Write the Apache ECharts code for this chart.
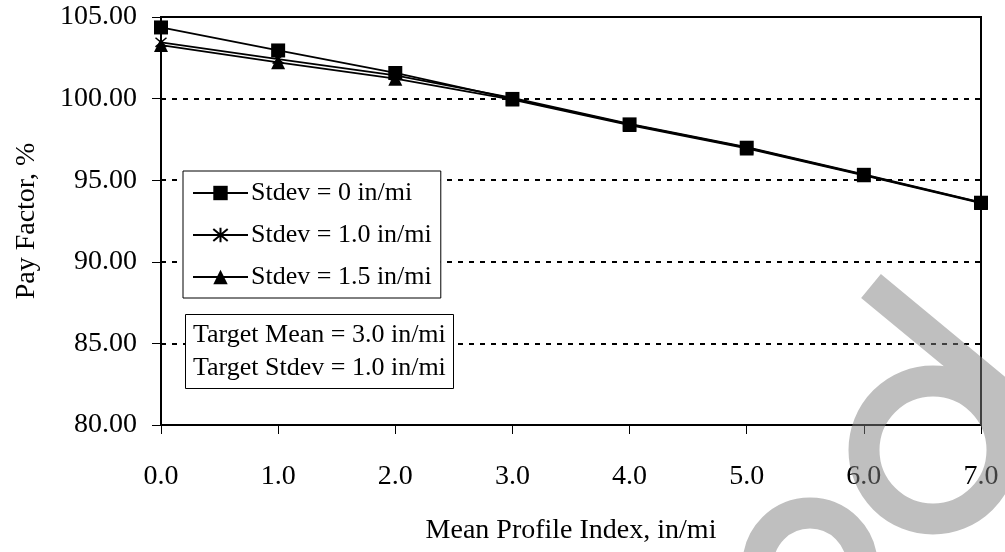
<!DOCTYPE html>
<html>
<head>
<meta charset="utf-8">
<script src="https://cdn.jsdelivr.net/npm/echarts@6/dist/echarts.min.js"></script>
<style>
  html, body { margin: 0; padding: 0; background: #fff; }
  #chart { width: 1005px; height: 552px; }
</style>
</head>
<body>
<div id="chart"></div>
<script>
// mean profile index, in/mi
const mpi = [0, 1, 2, 3, 4, 5, 6, 7];
// pay factor, % for each stdev
const stdev0 = [104.36, 102.95, 101.57, 99.98, 98.42, 96.99, 95.33, 93.62];
const stdev10 = [103.45, 102.42, 101.42, 100.04, 98.45, 97.02, 95.35, 93.64];
const stdev15 = [103.28, 102.22, 101.22, 99.94, 98.38, 96.95, 95.3, 93.6];
const seriesNames = ['Stdev = 0 in/mi', 'Stdev = 1.0 in/mi', 'Stdev = 1.5 in/mi'];
const noteLines = ['Target Mean = 3.0 in/mi', 'Target Stdev = 1.0 in/mi'];

const font = '"Liberation Serif", "Times New Roman", serif';
const asterisk = 'path://M0,0L10,10M0,10L10,0M5,-1L5,11';

// gray watermark strokes over the lower right, drawn as one svg so overlaps stay even
const wmSvg = '<svg xmlns="http://www.w3.org/2000/svg" width="1005" height="552">' +
  '<path d="M871 286 L1015 405 M1002 450 A69 69 0 1 0 864 450 A69 69 0 1 0 1002 450 M758 565 A52 52 0 0 1 862 565" ' +
  'stroke="#808080" stroke-width="31" fill="none"/></svg>';

const pairs = (ys) => mpi.map((x, i) => [x, ys[i]]);

const chart = echarts.init(document.getElementById('chart'), null, { renderer: 'canvas' });

chart.setOption({
  animation: false,
  backgroundColor: '#fff',
  textStyle: { fontFamily: font, color: '#000' },
  grid: {
    left: 161, right: 24, top: 17, bottom: 127,
    show: true, borderColor: '#000', borderWidth: 2
  },
  title: {
    text: noteLines.join('\n'),
    left: 185, top: 314,
    padding: [5, 8, 4, 8],
    backgroundColor: '#fff',
    borderColor: '#000', borderWidth: 1,
    textStyle: { fontFamily: font, fontSize: 26, fontWeight: 'normal', color: '#000', lineHeight: 33 }
  },
  legend: {
    orient: 'vertical',
    left: 183, top: 171,
    padding: [9, 9, 8, 9],
    itemGap: 16,
    itemWidth: 55, itemHeight: 18,
    backgroundColor: '#fff',
    borderColor: '#000', borderWidth: 1, borderRadius: 0,
    data: seriesNames,
    textStyle: { fontFamily: font, fontSize: 26, color: '#000', padding: [0, 0, 0, -2] }
  },
  xAxis: {
    type: 'value', min: 0, max: 7, interval: 1,
    name: 'Mean Profile Index, in/mi',
    nameLocation: 'middle', nameGap: 92,
    nameTextStyle: { fontFamily: font, fontSize: 28, color: '#000' },
    axisLine: { lineStyle: { color: '#000', width: 2 } },
    axisTick: { show: true, length: 9, lineStyle: { color: '#000', width: 1 } },
    axisLabel: { margin: 38, fontFamily: font, fontSize: 28, color: '#000', formatter: (v) => v.toFixed(1) },
    splitLine: { show: false }
  },
  yAxis: {
    type: 'value', min: 80, max: 105, interval: 5,
    name: 'Pay Factor, %',
    nameLocation: 'middle', nameGap: 120,
    nameTextStyle: { fontFamily: font, fontSize: 28, color: '#000' },
    axisLine: { show: true, lineStyle: { color: '#000', width: 2 } },
    axisTick: { show: true, length: 9, lineStyle: { color: '#000', width: 1 } },
    axisLabel: { margin: 24, fontFamily: font, fontSize: 28, color: '#000', formatter: (v) => v.toFixed(2) },
    splitLine: { show: true, lineStyle: { color: '#000', width: 2, type: [5, 6] } }
  },
  graphic: [
    {
      type: 'image', z: 100, silent: true,
      x: 0, y: 0,
      style: {
        image: 'data:image/svg+xml;charset=utf-8,' + encodeURIComponent(wmSvg),
        width: 1005, height: 552, opacity: 0.5
      }
    }
  ],
  series: [
    {
      name: seriesNames[0], type: 'line', data: pairs(stdev0), z: 5,
      symbol: 'rect', symbolSize: 14,
      lineStyle: { color: '#000', width: 1.8 },
      itemStyle: { color: '#000' }
    },
    {
      name: seriesNames[1], type: 'line', data: pairs(stdev10), z: 4,
      symbol: asterisk, symbolSize: 11,
      lineStyle: { color: '#000', width: 1.8 },
      itemStyle: { color: '#000', borderColor: '#000', borderWidth: 1.5 }
    },
    {
      name: seriesNames[2], type: 'line', data: pairs(stdev15), z: 3,
      symbol: 'triangle', symbolSize: 14,
      lineStyle: { color: '#000', width: 1.8 },
      itemStyle: { color: '#000' }
    }
  ]
});
</script>
</body>
</html>
